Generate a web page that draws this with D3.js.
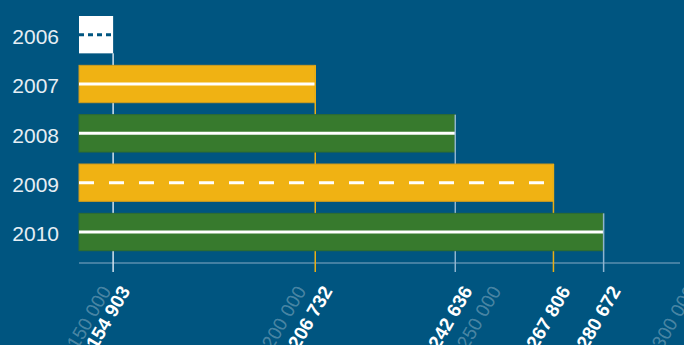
<!DOCTYPE html>
<html>
<head>
<meta charset="utf-8">
<script src="https://cdn.jsdelivr.net/npm/d3@7"></script>
<style>
  html, body { margin: 0; padding: 0; background: #005580; }
  svg { display: block; }
</style>
</head>
<body>
<svg id="chart" width="684" height="345"></svg>
<script>
// Yearly totals, one bar per year
const years = ["2006", "2007", "2008", "2009", "2010"];
const totals = [154903, 206732, 242636, 267806, 280672];
// Faint reference values along the bottom axis
const scaleTicks = [150000, 200000, 250000, 300000];

// Look of each bar: fill, outline, centre stripe and the guide line under its end
const barLook = [
  { fill: "#ffffff", stroke: "none",    stripe: "#005580", dash: "5,4",   guide: "#d3e2ec" },
  { fill: "#f0b213", stroke: "#cf9c1e", stripe: "#ffffff", dash: null,    guide: "#e8ae16" },
  { fill: "#377a2d", stroke: "#2f6c2f", stripe: "#ffffff", dash: null,    guide: "#8fb4cf" },
  { fill: "#f0b213", stroke: "#cf9c1e", stripe: "#ffffff", dash: "15,15", guide: "#e8ae16" },
  { fill: "#377a2d", stroke: "#2f6c2f", stripe: "#ffffff", dash: null,    guide: "#8fb4cf" }
];

const svg = d3.select("#chart");
const plotLeft = 79, plotRight = 680, axisY = 263, tickBottom = 272;

const x = d3.scaleLinear().domain([150000, 300000]).range([94, 679]);
const y = d3.scaleBand().domain(years).range([16, 250.7]).paddingInner(0.243).paddingOuter(0);

const fmt = d3.formatLocale({ decimal: ",", thousands: " ", grouping: [3], currency: ["", ""] }).format(",d");

svg.append("rect").attr("width", 684).attr("height", 345).attr("fill", "#005580");

// Axis baseline
svg.append("line")
  .attr("x1", plotLeft).attr("x2", plotRight)
  .attr("y1", axisY).attr("y2", axisY)
  .attr("stroke", "#86abc6").attr("stroke-width", 1.2);

// Bars, each followed by its guide line so later bars cover earlier guides
const rows = years.map((yr, i) => ({ yr, v: totals[i], look: barLook[i] }));
rows.forEach(d => {
  const g = svg.append("g");
  const top = y(d.yr), h = y.bandwidth(), right = x(d.v);
  g.append("rect")
    .attr("x", plotLeft).attr("y", top)
    .attr("width", right - plotLeft).attr("height", h)
    .attr("fill", d.look.fill)
    .attr("stroke", d.look.stroke).attr("stroke-width", 1);
  g.append("line")
    .attr("x1", plotLeft).attr("x2", right)
    .attr("y1", top + h / 2).attr("y2", top + h / 2)
    .attr("stroke", d.look.stripe).attr("stroke-width", 3)
    .attr("stroke-dasharray", d.look.dash);
  g.append("line")
    .attr("x1", right).attr("x2", right)
    .attr("y1", d.look.fill === "#ffffff" ? top + h : top).attr("y2", tickBottom)
    .attr("stroke", d.look.guide).attr("stroke-width", 1.5);
});

// Year labels
svg.append("g").selectAll("text").data(years).join("text")
  .attr("x", 59).attr("y", d => y(d) + y.bandwidth() / 2)
  .attr("dy", "0.45em")
  .attr("text-anchor", "end")
  .attr("font-family", "Liberation Sans, Arial, sans-serif")
  .attr("font-size", 21)
  .attr("fill", "#e6eef4")
  .text(d => d);

// Faint scale values
svg.append("g").selectAll("text").data(scaleTicks).join("text")
  .attr("transform", d => `translate(${x(d) + 6},284) rotate(-60)`)
  .attr("dy", "0.71em")
  .attr("text-anchor", "end")
  .attr("font-family", "Liberation Sans, Arial, sans-serif")
  .attr("font-size", 19)
  .attr("fill", "#ffffff").attr("fill-opacity", 0.3)
  .text(d => fmt(d));

// Exact totals under each bar end
svg.append("g").selectAll("text").data(totals).join("text")
  .attr("transform", d => `translate(${x(d) + 6},284) rotate(-60)`)
  .attr("dy", "0.71em")
  .attr("text-anchor", "end")
  .attr("font-family", "Liberation Sans, Arial, sans-serif")
  .attr("font-size", 19)
  .attr("font-weight", "bold")
  .attr("fill", "#ffffff")
  .text(d => fmt(d));
</script>
</body>
</html>
